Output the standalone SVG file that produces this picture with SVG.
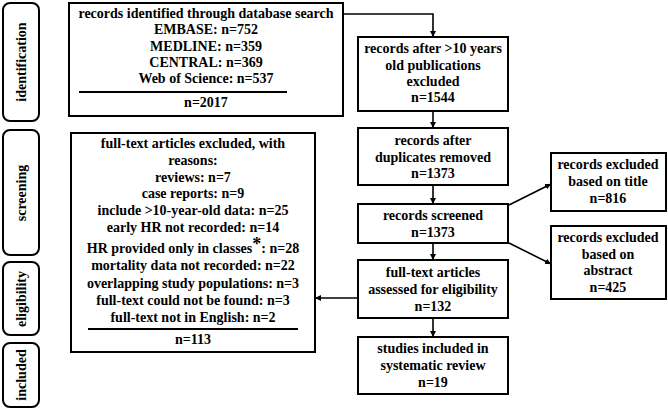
<svg xmlns="http://www.w3.org/2000/svg" width="668" height="411" viewBox="0 0 668 411">
<defs>
<marker id="ah" viewBox="0 0 10 10" refX="10" refY="5" markerWidth="6" markerHeight="6" orient="auto" markerUnits="userSpaceOnUse"><path d="M0,0 L10,5 L0,10 z" fill="#000"/></marker>
<style>
text{font-family:"Liberation Serif","Times New Roman",serif;font-weight:bold;font-size:14px;fill:#000;text-anchor:middle}
.box{fill:#fff;stroke:#000;stroke-width:2}
.stage{fill:#fff;stroke:#000;stroke-width:2}
.ln{stroke:#000;stroke-width:2;fill:none}
.c{stroke:#000;stroke-width:1.6;fill:none;marker-end:url(#ah)}
</style>
</defs>
<rect width="668" height="411" fill="#fff"/>
<g id="stage-identification"><rect class="stage" x="3" y="3" width="36" height="118" rx="7"/><text transform="translate(26,62) rotate(-90)">identification</text></g>
<g id="stage-screening"><rect class="stage" x="3" y="130" width="36" height="125" rx="7"/><text transform="translate(26,193) rotate(-90)">screening</text></g>
<g id="stage-eligibility"><rect class="stage" x="3" y="262" width="36" height="73" rx="7"/><text transform="translate(26,299) rotate(-90)">eligibility</text></g>
<g id="stage-included"><rect class="stage" x="3" y="343" width="36" height="64" rx="7"/><text transform="translate(26,375) rotate(-90)">included</text></g>

<g id="connectors">
<path class="c" d="M343,14 H433 V37"/>
<path class="c" d="M433,111 V128"/>
<path class="c" d="M433,185 V204"/>
<path class="c" d="M433,243 V260"/>
<path class="c" d="M433,318 V337"/>
<path class="c" d="M509,205 L551,184"/>
<path class="c" d="M509,243 L551,264"/>
<path class="c" d="M358,298 H315"/>
</g>

<g id="n-search"><rect class="box" x="69" y="3" width="274" height="113"/>
<text x="206" y="18">records identified through database search</text>
<text x="206" y="34">EMBASE: n=752</text>
<text x="206" y="51">MEDLINE: n=359</text>
<text x="206" y="67">CENTRAL: n=369</text>
<text x="206" y="83">Web of Science: n=537</text>
<line class="ln" x1="79" y1="92" x2="287" y2="92"/>
<text x="206" y="107">n=2017</text></g>

<g id="n-after10"><rect class="box" x="358" y="37" width="150" height="74"/>
<text x="433" y="53">records after &gt;10 years</text>
<text x="433" y="70">old publications</text>
<text x="433" y="86">excluded</text>
<text x="433" y="102">n=1544</text></g>

<g id="n-dups"><rect class="box" x="358" y="128" width="150" height="57"/>
<text x="433" y="145">records after</text>
<text x="433" y="162">duplicates removed</text>
<text x="433" y="178">n=1373</text></g>

<g id="n-screened"><rect class="box" x="358" y="204" width="150" height="39"/>
<text x="433" y="220">records screened</text>
<text x="433" y="237">n=1373</text></g>

<g id="n-fulltext"><rect class="box" x="358" y="260" width="150" height="58"/>
<text x="433" y="277">full-text articles</text>
<text x="433" y="294">assessed for eligibility</text>
<text x="433" y="311">n=132</text></g>

<g id="n-included"><rect class="box" x="358" y="337" width="150" height="57"/>
<text x="433" y="353">studies included in</text>
<text x="433" y="370">systematic review</text>
<text x="433" y="387">n=19</text></g>

<g id="n-title"><rect class="box" x="551" y="153" width="115" height="58"/>
<text x="608" y="169">records excluded</text>
<text x="608" y="186">based on title</text>
<text x="608" y="203">n=816</text></g>

<g id="n-abstract"><rect class="box" x="551" y="226" width="115" height="73"/>
<text x="608" y="242">records excluded</text>
<text x="608" y="259">based on</text>
<text x="608" y="275">abstract</text>
<text x="608" y="292">n=425</text></g>

<g id="n-excluded"><rect class="box" x="71" y="133" width="244" height="219"/>
<text x="193" y="148">full-text articles excluded, with</text>
<text x="193" y="165">reasons:</text>
<text x="193" y="182">reviews: n=7</text>
<text x="193" y="198">case reports: n=9</text>
<text x="193" y="215">include &gt;10-year-old data: n=25</text>
<text x="193" y="232">early HR not recorded: n=14</text>
<text x="193" y="253">HR provided only in classes<tspan font-size="18" dy="-3">*</tspan><tspan dy="3">: n=28</tspan></text>
<text x="193" y="270">mortality data not recorded: n=22</text>
<text x="193" y="288">overlapping study populations: n=3</text>
<text x="193" y="305">full-text could not be found: n=3</text>
<text x="193" y="322">full-text not in English: n=2</text>
<line class="ln" x1="88" y1="329" x2="298" y2="329"/>
<text x="193" y="344">n=113</text></g>
</svg>
